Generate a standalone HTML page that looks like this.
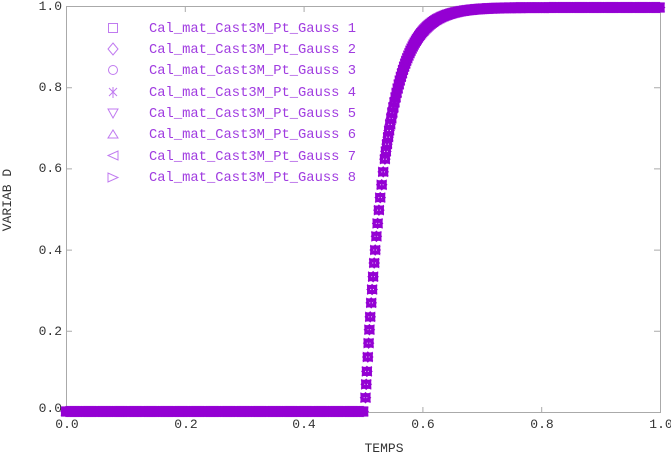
<!DOCTYPE html>
<html><head><meta charset="utf-8"><style>
html,body{margin:0;padding:0;background:#fff;}
svg{display:block;}
text{font-family:"Liberation Mono","DejaVu Sans Mono",monospace;font-size:13px;}
.lg text{font-size:13.8px;}
</style></head><body>
<svg id="s" width="671" height="453" viewBox="0 0 671 453" xmlns="http://www.w3.org/2000/svg">
<defs>
<g id="m" fill="none" stroke="#9400d3" stroke-width="1.1">
<rect x="-4" y="-4" width="8" height="8"/>
<path d="M0,-5 L5,0 L0,5 L-5,0Z"/>
<circle r="4"/>
<path d="M-4,-4 L4,4 M-4,4 L4,-4 M0,-4.5 V4.5"/>
<path d="M-4.5,-3.5 L4.5,-3.5 L0,4.5Z"/>
<path d="M-4.5,3.5 L4.5,3.5 L0,-4.5Z"/>
<path d="M4.5,-4.5 L4.5,4.5 L-4.5,0Z"/>
<path d="M-4.5,-4.5 L-4.5,4.5 L4.5,0Z"/>
</g>
</defs>
<g stroke="#aaa" stroke-width="1" fill="none">
<rect x="66.5" y="6.5" width="594" height="406"/>
<path d="M185.3,7V12 M304.1,7V12 M422.9,7V12 M541.7,7V12 M185.3,412V407 M304.1,412V407 M422.9,412V407 M541.7,412V407 M66,87.7H72 M66,168.9H72 M66,250.1H72 M66,331.3H72 M660,87.7H654 M660,168.9H654 M660,250.1H654 M660,331.3H654"/>
</g>
<g fill="#333" text-anchor="end">
<text x="62" y="10">1.0</text>
<text x="62" y="91">0.8</text>
<text x="62" y="172">0.6</text>
<text x="62" y="254">0.4</text>
<text x="62" y="335">0.2</text>
<text x="62" y="412">0.0</text>
</g>
<g fill="#333" text-anchor="middle">
<text x="67" y="428">0.0</text>
<text x="186" y="428">0.2</text>
<text x="304" y="428">0.4</text>
<text x="423" y="428">0.6</text>
<text x="542" y="428">0.8</text>
<text x="661" y="428">1.0</text>
<text x="384" y="452">TEMPS</text>
<text transform="translate(11,200) rotate(-90)">VARIAB  D</text>
</g>
<g stroke="#c07af0" stroke-width="1" fill="none">
<rect x="108.5" y="23.5" width="9" height="9"/>
<path d="M113,43 L118,49 L113,55 L108,49Z"/>
<circle cx="113" cy="70" r="4.5"/>
<path d="M109,88 L117,96 M109,96 L117,88 M113,87 V98"/>
<path d="M108,109 L118,109 L113,118Z"/>
<path d="M108,138 L118,138 L113,130Z"/>
<path d="M118,151 L118,160 L108,155.5Z"/>
<path d="M108,173 L108,182 L118,177.5Z"/>
</g>
<g class="lg" fill="#a03ce0">
<text x="149" y="32">Cal_mat_Cast3M_Pt_Gauss 1</text>
<text x="149" y="53">Cal_mat_Cast3M_Pt_Gauss 2</text>
<text x="149" y="74">Cal_mat_Cast3M_Pt_Gauss 3</text>
<text x="149" y="96">Cal_mat_Cast3M_Pt_Gauss 4</text>
<text x="149" y="117">Cal_mat_Cast3M_Pt_Gauss 5</text>
<text x="149" y="138">Cal_mat_Cast3M_Pt_Gauss 6</text>
<text x="149" y="160">Cal_mat_Cast3M_Pt_Gauss 7</text>
<text x="149" y="181">Cal_mat_Cast3M_Pt_Gauss 8</text>
</g>
<g id="pts"></g>
</svg>
<script>
(function(){
var g=document.getElementById('pts'),h='';
function X(t){return 66+594*t;}
function Y(d){return 411.5-404*d;}
function D(t){return t<0.503?0:1-Math.exp(-29*(t-0.503));}
var lx=-100,ly=-100,lt=-1,t=0;
while(t<=1.0005){
 var x=X(t),y=Y(D(t));
 var dist=Math.hypot(x-lx,y-ly);
 var loc=Math.abs(Y(D(t+0.0017))-y);
 if(dist>=12.5||(t-lt>=0.0017&&loc<7)){h+='<use href="#m" x="'+x.toFixed(1)+'" y="'+y.toFixed(1)+'"/>';lx=x;ly=y;lt=t;}
 t+=0.0002;
}
g.innerHTML=h;
})();
</script>
</body></html>
